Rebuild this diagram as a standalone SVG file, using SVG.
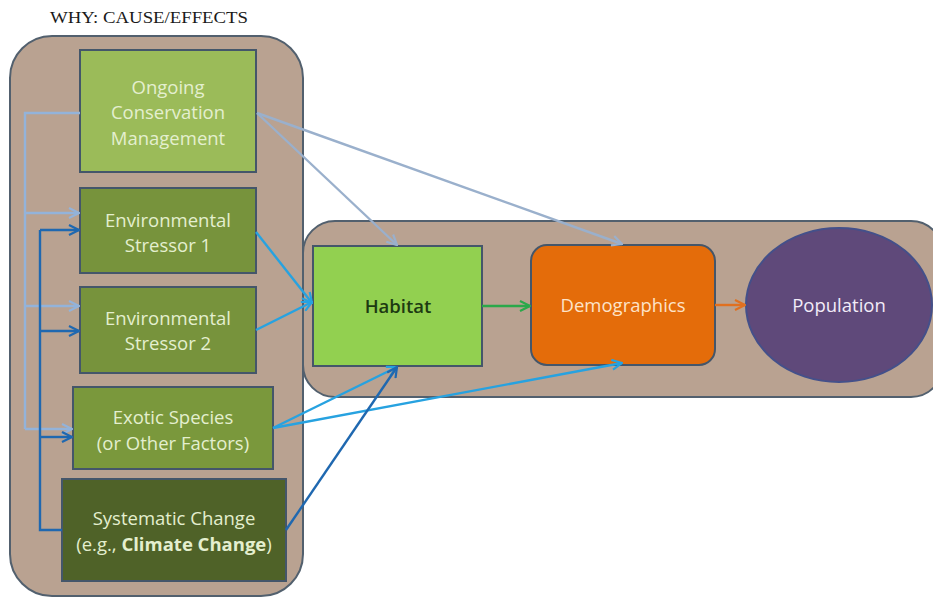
<svg xmlns="http://www.w3.org/2000/svg" width="933" height="598" viewBox="0 0 933 598">
<defs>
<style>
.cont{fill:#b9a291;stroke:#52606e;stroke-width:2}
.box{stroke:#44566a;stroke-width:2}
.t{font-family:"Open Sans","Liberation Sans",sans-serif;font-size:18.5px;text-anchor:middle;fill:#e4efcf}
.c{fill:none;stroke-width:2.4}
.lb{stroke:#93b3da}
.gb{stroke:#9ab0cc}
.cy{stroke:#27a2e0}
.db{stroke:#1f68b0}
</style>
<marker id="aLB" viewBox="0 0 12 12" refX="11" refY="6" markerWidth="12" markerHeight="12" markerUnits="userSpaceOnUse" orient="auto"><path d="M1,1 L11,6 L1,11" fill="none" stroke="#93b3da" stroke-width="2.2"/></marker>
<marker id="aGB" viewBox="0 0 12 12" refX="11" refY="6" markerWidth="12" markerHeight="12" markerUnits="userSpaceOnUse" orient="auto"><path d="M1,1 L11,6 L1,11" fill="none" stroke="#9ab0cc" stroke-width="2.2"/></marker>
<marker id="aCY" viewBox="0 0 12 12" refX="11" refY="6" markerWidth="12" markerHeight="12" markerUnits="userSpaceOnUse" orient="auto"><path d="M1,1 L11,6 L1,11" fill="none" stroke="#27a2e0" stroke-width="2.2"/></marker>
<marker id="aDB" viewBox="0 0 12 12" refX="11" refY="6" markerWidth="12" markerHeight="12" markerUnits="userSpaceOnUse" orient="auto"><path d="M1,1 L11,6 L1,11" fill="none" stroke="#1f68b0" stroke-width="2.2"/></marker>
<marker id="aGR" viewBox="0 0 12 12" refX="11" refY="6" markerWidth="12" markerHeight="12" markerUnits="userSpaceOnUse" orient="auto"><path d="M1,1 L11,6 L1,11" fill="none" stroke="#2aa84a" stroke-width="2.2"/></marker>
<marker id="aOR" viewBox="0 0 12 12" refX="11" refY="6" markerWidth="12" markerHeight="12" markerUnits="userSpaceOnUse" orient="auto"><path d="M1,1 L11,6 L1,11" fill="none" stroke="#e07020" stroke-width="2.2"/></marker>
</defs>
<rect width="933" height="598" fill="#ffffff"/>
<text x="50" y="23" font-family="'Liberation Serif',serif" font-size="16" textLength="198" lengthAdjust="spacingAndGlyphs" fill="#1a1a1a">WHY: CAUSE/EFFECTS</text>

<g id="why-container"><rect class="cont" x="10" y="36" width="293" height="560" rx="42"/></g>
<g id="what-container"><rect class="cont" x="303" y="221" width="640" height="176" rx="32"/></g>

<g id="ongoing"><rect class="box" x="80" y="50" width="176" height="122" fill="#9bbb59"/>
<text class="t" x="168" y="94">Ongoing</text><text class="t" x="168" y="119">Conservation</text><text class="t" x="168" y="145">Management</text></g>

<g id="stressor1"><rect class="box" x="80" y="188" width="176" height="85" fill="#77933c"/>
<text class="t" x="168" y="227">Environmental</text><text class="t" x="168" y="252">Stressor 1</text></g>

<g id="stressor2"><rect class="box" x="80" y="287" width="176" height="86" fill="#77933c"/>
<text class="t" x="168" y="325">Environmental</text><text class="t" x="168" y="350">Stressor 2</text></g>

<g id="exotic"><rect class="box" x="73" y="387" width="200" height="82" fill="#7a983c"/>
<text class="t" x="173" y="424">Exotic Species</text><text class="t" x="173" y="450">(or Other Factors)</text></g>

<g id="systematic"><rect class="box" x="62" y="479" width="224" height="102" fill="#4f6228"/>
<text class="t" x="174" y="525">Systematic Change</text><text class="t" x="174" y="551">(e.g., <tspan font-weight="bold">Climate Change</tspan>)</text></g>

<g id="habitat"><rect class="box" x="313" y="246" width="169" height="120" fill="#92d050"/>
<text class="t" x="398" y="313" style="fill:#1d3a12;font-weight:600">Habitat</text></g>

<g id="demographics"><rect class="box" x="531" y="245" width="184" height="120" rx="16" fill="#e46c0a"/>
<text class="t" x="623" y="312" style="fill:#fde3c8">Demographics</text></g>

<g id="population"><ellipse cx="839" cy="305" rx="93" ry="77" fill="#5f497a" stroke="#44508a" stroke-width="2"/>
<text class="t" x="839" y="312" style="fill:#f2ecf8">Population</text></g>

<g id="connectors">
<path class="c lb" d="M80,113 H25 V429"/>
<path class="c lb" d="M25,213 H79" marker-end="url(#aLB)"/>
<path class="c lb" d="M25,306 H79" marker-end="url(#aLB)"/>
<path class="c lb" d="M25,429 H72" marker-end="url(#aLB)"/>
<path class="c db" d="M62,530 H40 V230"/>
<path class="c db" d="M40,230 H79" marker-end="url(#aDB)"/>
<path class="c db" d="M40,331 H79" marker-end="url(#aDB)"/>
<path class="c db" d="M40,437 H72" marker-end="url(#aDB)"/>
<path class="c gb" d="M257,113 L397,245" marker-end="url(#aGB)"/>
<path class="c gb" d="M257,113 L622,244" marker-end="url(#aGB)"/>
<path class="c cy" d="M256,232 L312,303" marker-end="url(#aCY)"/>
<path class="c cy" d="M256,330 L312,302" marker-end="url(#aCY)"/>
<path class="c cy" d="M273,428 L397,367" marker-end="url(#aCY)"/>
<path class="c cy" d="M273,428 L622,363" marker-end="url(#aCY)"/>
<path class="c db" d="M286,530 L397,367" marker-end="url(#aDB)"/>
<path class="c" stroke="#2aa84a" d="M482,306 L530,306" marker-end="url(#aGR)"/>
<path class="c" stroke="#e07020" d="M715,305 L745,305" marker-end="url(#aOR)"/>
</g>
</svg>
